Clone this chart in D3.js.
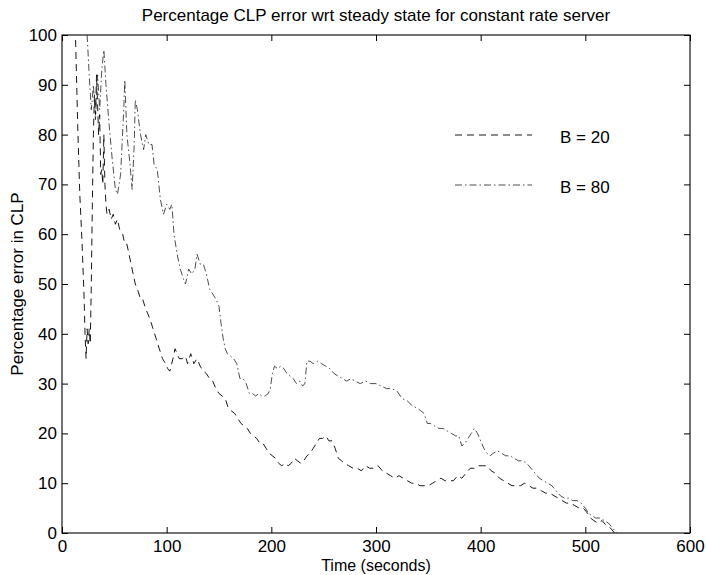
<!DOCTYPE html>
<html>
<head>
<meta charset="utf-8">
<script src="https://cdn.jsdelivr.net/npm/d3@7"></script>
<style>
  html, body { margin: 0; padding: 0; background: #fff; }
  svg { display: block; font-family: "Liberation Sans", Arial, Helvetica, sans-serif; }
</style>
</head>
<body>
<svg id="chart" width="706" height="575"></svg>
<script>
// Time axis (seconds) and percentage error, per buffer size
const timeB20 = [13,15,17,19,21,22,23,24,25,26,27,28,29,30,31,32,33,34,35,36,37,38,39,40,41,42,43,45,47,49,51,53,55,58,60,62,65,68,70,72,75,77,80,82,84,87,90,93,96,99,101,103,106,108,110,112,115,118,120,123,126,129,132,135,138,141,144,147,150,153,156,159,162,165,168,171,174,177,180,183,186,189,192,195,198,201,204,207,210,213,216,219,222,225,228,231,234,237,240,243,246,249,252,255,258,261,264,267,270,274,278,282,286,290,294,298,302,306,310,314,318,322,326,330,334,338,342,346,350,354,358,362,366,370,374,378,382,386,390,394,398,402,406,410,414,418,422,426,430,434,438,442,446,450,454,458,462,466,470,474,478,482,486,490,494,498,502,505,508,512,516,520,524,528];
const errB20 = [99,82,68,59,48,40,35,41,38,41,38,50,66,80,88,84,92,86,80,84,72,73,70,80,70,66,64,65,63,64,62,63,61,60,58,58,55,52,50,49,47,47,45,44,43,41,39,37,35,34,33,32.5,35,37,36,35,35,35.5,34,36,34,35,33.5,32.5,32,31,30.5,29,28,27.5,27,25,24.5,24,23,22,21.5,21,20,19.5,19,18,18,17,16,15.5,15,14,13.5,14,13.5,14,15,14.5,14,14.5,15.5,16,17,18,19,19,19.5,18.5,18.5,17,15,14.5,14,13.5,13,13,12.5,13.5,13,13,13.5,12.5,12,11.5,11,11.5,11,10.5,10,10,9.5,9.5,9.5,10,10.5,11,10.5,10.5,10.5,11.5,11,12,13,13,13.5,13.5,13.5,12.5,12,11,10.5,10,9.5,9.5,9.5,10,9.5,9,9,8.5,8,8,7.5,7,6.5,6,6,5.5,5,5,4,3,2.5,2,2.5,1.5,1,0];

const timeB80 = [24,26,28,30,32,34,36,38,40,42,45,48,51,53,56,59,60,62,65,67,69,70,72,75,78,80,83,86,88,91,94,97,100,103,105,107,110,113,116,118,121,124,127,129,132,135,138,141,144,147,150,152,154,156,158,161,164,167,170,173,176,179,182,185,188,191,194,197,199,201,203,206,209,212,215,218,221,224,227,230,232,234,237,240,244,248,252,256,260,264,268,272,276,280,285,290,295,300,305,310,315,320,325,330,335,340,343,346,349,352,356,360,364,368,372,376,379,382,385,388,391,394,397,400,403,406,409,412,416,420,424,428,432,436,440,444,448,452,456,460,464,468,472,476,480,484,488,492,496,500,503,506,510,514,518,522,526,530];
const errB80 = [100,92,85,90,83,92,85,93,97,90,82,75,69,68,72,85,91,80,74,69,78,87,85,80,77,80,78,78,74,73,67,64,66,65,66,60,56,53,51,50,53,52,53,56,54,54,52,49,48,47,45.5,42,39,37,36,35.5,35,34,31,31,30,28,28,27.5,28,27.5,27.5,28,29,32,33.5,33,33.5,33,32,31.5,31,30,30.5,29.5,30,34.5,34.5,34,34.5,34,33.5,33,32,31.5,31,30.5,31,30.5,30,30.5,30,30,29.5,29,29,28.5,27,26.5,25.5,25,24.5,24,22,22,21.5,21,21,20.5,20,19.5,19.5,17.5,18,19,20,21,20,18.5,17,16,15.5,16,16.5,16,15.5,15.5,15,14.5,14.5,14,13,12,11,10.5,10,9.5,8.5,7.5,7,7,6.5,6.5,6,5,4,3.5,3,3,2.5,2,1,0];

const xTicks = [0, 100, 200, 300, 400, 500, 600];
const yTicks = [0, 10, 20, 30, 40, 50, 60, 70, 80, 90, 100];
const seriesLabels = ["B = 20", "B = 80"];

const svg = d3.select("#chart");
const margin = { left: 62, right: 16, top: 35, bottom: 42 };
const W = 706, H = 575;
const x = d3.scaleLinear().domain([0, 600]).range([margin.left, W - margin.right]);
const y = d3.scaleLinear().domain([0, 100]).range([H - margin.bottom, margin.top]);

const fontSize = 17;
const tickLen = 6;

// Plot frame
svg.append("rect")
  .attr("x", x(0)).attr("y", y(100))
  .attr("width", x(600) - x(0)).attr("height", y(0) - y(100))
  .attr("fill", "none").attr("stroke", "#000").attr("stroke-width", 1.1);

// Axes with inward ticks on all four sides
const axB = d3.axisBottom(x).tickValues(xTicks).tickSizeInner(-tickLen).tickSizeOuter(0).tickPadding(7);
const axT = d3.axisTop(x).tickValues(xTicks).tickSizeInner(-tickLen).tickSizeOuter(0).tickFormat("");
const axL = d3.axisLeft(y).tickValues(yTicks).tickSizeInner(-tickLen).tickSizeOuter(0).tickPadding(5);
const axR = d3.axisRight(y).tickValues(yTicks).tickSizeInner(-tickLen).tickSizeOuter(0).tickFormat("");

function styleAxis(g) {
  g.select(".domain").remove();
  g.selectAll(".tick line").attr("stroke", "#000").attr("stroke-width", 1);
  g.selectAll(".tick text").attr("fill", "#000").style("font-size", fontSize + "px")
    .style("font-family", "'Liberation Sans', Arial, sans-serif");
}
svg.append("g").attr("transform", `translate(0,${y(0)})`).call(axB).call(styleAxis);
svg.append("g").attr("transform", `translate(0,${y(100)})`).call(axT).call(styleAxis);
svg.append("g").attr("transform", `translate(${x(0)},0)`).call(axL).call(styleAxis);
svg.append("g").attr("transform", `translate(${x(600)},0)`).call(axR).call(styleAxis);

// Data lines
const line = d3.line().x(d => x(d[0])).y(d => y(d[1]));
const styles = [
  { dash: "7,5", width: 0.9, color: "#000" },
  { dash: "7,3,1.5,3", width: 0.8, color: "#222" }
];
const series = [d3.zip(timeB20, errB20), d3.zip(timeB80, errB80)];
series.forEach((pts, i) => {
  svg.append("path").datum(pts)
    .attr("d", line)
    .attr("fill", "none")
    .attr("stroke", styles[i].color)
    .attr("stroke-width", styles[i].width)
    .attr("stroke-dasharray", styles[i].dash);
});

// Legend
const legendY = [135, 185];
seriesLabels.forEach((lab, i) => {
  svg.append("line")
    .attr("x1", 455).attr("x2", 532)
    .attr("y1", legendY[i]).attr("y2", legendY[i])
    .attr("stroke", styles[i].color)
    .attr("stroke-width", styles[i].width)
    .attr("stroke-dasharray", styles[i].dash);
  svg.append("text")
    .attr("x", 560).attr("y", legendY[i] + 7.5)
    .style("font-size", fontSize + "px")
    .text(lab);
});

// Titles
svg.append("text")
  .attr("x", (x(0) + x(600)) / 2).attr("y", 21)
  .attr("text-anchor", "middle")
  .style("font-size", fontSize + "px")
  .text("Percentage CLP error wrt steady state for constant rate server");
svg.append("text")
  .attr("x", (x(0) + x(600)) / 2).attr("y", 571)
  .attr("text-anchor", "middle")
  .style("font-size", "16px")
  .text("Time (seconds)");
svg.append("text")
  .attr("transform", `translate(23,${(y(0) + y(100)) / 2}) rotate(-90)`)
  .attr("text-anchor", "middle")
  .style("font-size", fontSize + "px")
  .text("Percentage error in CLP");
</script>
</body>
</html>
